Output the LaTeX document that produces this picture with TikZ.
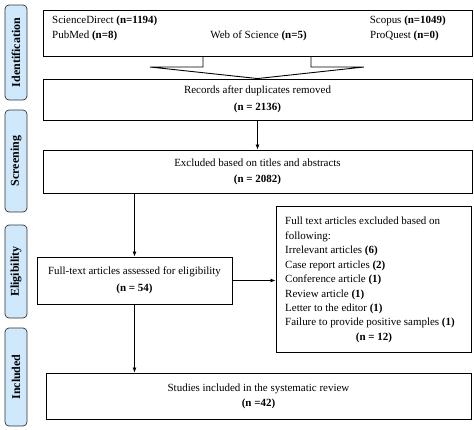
\documentclass[tikz,border=0pt]{standalone}
\usepackage{fontspec}
\setmainfont{Liberation Serif}
\usetikzlibrary{arrows.meta}
\definecolor{phasefill}{HTML}{CFE8FC}
\begin{document}
\begin{tikzpicture}[x=1bp,y=-1bp,
    box/.style={draw, line width=0.9pt, inner sep=0pt, align=center,
        font=\fontsize{11}{17}\selectfont},
    txt/.style={inner sep=0pt, font=\fontsize{11}{13}\selectfont},
    phase/.style={draw=black!80, line width=0.7pt, fill=phasefill, rounded corners=4pt,
        rotate=90, minimum height=22bp, inner sep=0pt,
        font=\fontsize{12}{14}\selectfont\bfseries},
    arr/.style={-{Latex[length=5pt,width=4pt]}, line width=0.8pt}]
    \useasboundingbox (0,0) rectangle (474,429);
    % phases on the left
    \node[phase, minimum width=95bp] (ident) at (16,52.5) {Identification};
    \node[phase, minimum width=102bp] (screen) at (16,161) {Screening};
    \node[phase, minimum width=93bp] (elig) at (16,271.5) {Eligibility};
    \node[phase, minimum width=98bp] (incl) at (16,377) {Included};
    % databases
    \node[box, minimum width=429bp, minimum height=46bp] (src) at (257.5,33) {};
    \node[txt, anchor=base west] (sd) at (52,23) {ScienceDirect \textbf{(n=1194)}};
    \node[txt, anchor=base east] (scopus) at (446,23) {Scopus \textbf{(n=1049)}};
    \node[txt, anchor=base west] (pubmed) at (52,38) {PubMed \textbf{(n=8)}};
    \node[txt, anchor=base] (wos) at (258.5,38) {Web of Science \textbf{(n=5)}};
    \node[txt, anchor=base west] (proquest) at (370,38) {ProQuest \textbf{(n=0)}};
    % records
    \node[box, minimum width=429bp, minimum height=41bp] (rec) at (257.5,99.5)
        {Records after duplicates removed\\ \textbf{(n = 2136)}};
    \draw[line width=0.9pt] (203,56) -- (203,67) -- (150,67) -- (rec.north)
        -- (364,67) -- (311,67) -- (311,56);
    % screening
    \node[box, minimum width=429bp, minimum height=43bp, font=\fontsize{11}{16}\selectfont] (scr) at (257.5,171.5)
        {Excluded based on titles and abstracts\\ \textbf{(n = 2082)}};
    % eligibility
    \node[box, minimum width=195bp, minimum height=47bp] (full) at (134.5,280.5)
        {Full-text articles assessed for eligibility\\ \textbf{(n = 54)}};
    \node[box, minimum width=195bp, minimum height=146bp] (excl) at (373.5,279) {};
    \node[txt, anchor=north west, align=left, font=\fontsize{11}{14.5}\selectfont] (excltxt) at (285,217)
        {Full text articles excluded based on\\ following:\\ Irrelevant articles \textbf{(6)}\\
         Case report articles \textbf{(2)}\\ Conference article \textbf{(1)}\\
         Review article \textbf{(1)}\\ Letter to the editor \textbf{(1)}\\
         Failure to provide positive samples \textbf{(1)}};
    \node[txt, anchor=base] (exclnum) at (374,340.5) {\textbf{(n = 12)}};
    % included
    \node[box, minimum width=425bp, minimum height=46bp, font=\fontsize{11}{15}\selectfont] (study) at (258.5,396)
        {Studies included in the systematic review\\ \textbf{(n =42)}};
    % arrows
    \draw[arr] (rec) -- (scr);
    \draw[arr] (full.north |- scr.south) -- (full);
    \draw[arr] (full.east) -- (full.east -| excl.west);
    \draw[arr] (full) -- (full |- study.north);
\end{tikzpicture}
\end{document}
